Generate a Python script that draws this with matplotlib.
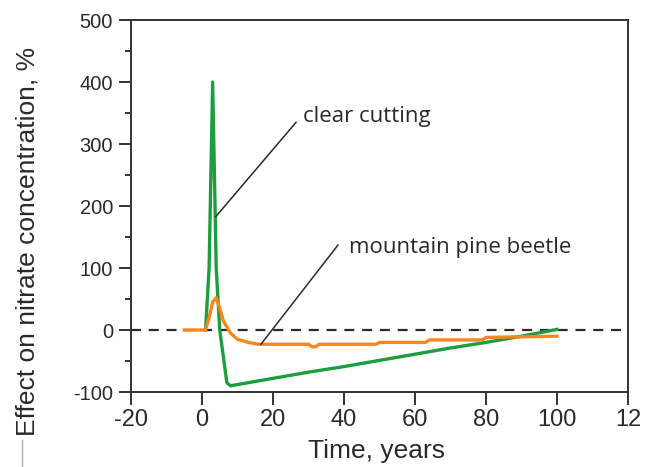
import matplotlib
matplotlib.use("Agg")
import matplotlib.pyplot as plt
from matplotlib.ticker import MultipleLocator

# Data
clear_x = [1, 2, 3, 4, 5, 7, 8, 10, 20, 30, 40, 50, 60, 70, 80, 90, 100]
clear_y = [0, 100, 400, 100, 0, -85, -90, -88, -78, -68, -59, -49, -39, -29, -20, -10, 1]

beetle_x = [-5, 1, 2, 3, 4, 5, 6, 8, 10, 13, 16, 30, 31, 32, 33, 49, 50, 63, 64, 79, 80, 100]
beetle_y = [0, 0, 20, 45, 52, 35, 15, -5, -15, -20, -23, -23, -27, -27, -23, -23, -20, -20, -16, -16, -12, -10]

x_ticks = [-20, 0, 20, 40, 60, 80, 100, 120]
x_ticklabels = ["-20", "0", "20", "40", "60", "80", "100", "12"]
y_ticks = [-100, 0, 100, 200, 300, 400, 500]
y_ticklabels = ["-100", "0", "100", "200", "300", "400", "500"]

green = "#1d9e3e"
orange = "#f7861e"
ink = "#2a2a2a"

plt.rcParams['font.family'] = ['Liberation Sans', 'DejaVu Sans']

fig = plt.figure(figsize=(6.46, 4.67), dpi=100)
ax = fig.add_axes([131/646, 1-392/467, (628-131)/646, (392-20)/467])

ax.axhline(0, color=ink, lw=1.6, ls=(0, (4.5, 3.5)), zorder=1)
ax.plot(clear_x, clear_y, color=green, lw=2.4, zorder=3, solid_joinstyle="round")
ax.plot(beetle_x, beetle_y, color=orange, lw=2.4, zorder=4, solid_joinstyle="round")

ax.set_xlim(-20, 120)
ax.set_ylim(-100, 500)
ax.set_xticks(x_ticks)
ax.set_xticklabels(x_ticklabels)
ax.set_yticks(y_ticks)
ax.set_yticklabels(y_ticklabels)
ax.yaxis.set_minor_locator(MultipleLocator(50))

for s in ax.spines.values():
    s.set_color("#333333")
    s.set_linewidth(1.4)

ax.tick_params(axis="x", which="major", labelsize=17, color="#333333", width=1.4,
               length=9, pad=3, labelcolor=ink)
ax.tick_params(axis="y", which="major", labelsize=14.5, color="#333333", width=1.4,
               length=9, pad=4, labelcolor=ink)
ax.tick_params(axis="y", which="minor", color="#333333", width=1.4, length=4.5)
ax.tick_params(axis="x", which="minor", length=0)

ax.set_xlabel("Time, years", fontsize=19, color=ink)
ax.xaxis.set_label_coords((376-131)/497, (392-439)/372)
ax.set_ylabel("Effect on nitrate concentration, %", fontsize=19, color=ink)
ax.yaxis.set_label_coords((40-131)/497, (392-241)/372)

# annotations
ann_font = ['Open Sans', 'DejaVu Sans']
ax.plot([3.9, 26.5], [183, 335], color=ink, lw=1.1, zorder=5)
ax.text(28.4, 336, "clear cutting", fontsize=16, family=ann_font, color=ink,
        va="baseline", ha="left")
ax.plot([16.6, 38.3], [-23, 137], color=ink, lw=1.1, zorder=5)
ax.text(41.5, 124, "mountain pine beetle", fontsize=16, family=ann_font, color=ink,
        va="baseline", ha="left")

# small gray mark at lower left
fig.add_artist(plt.Line2D([22/646, 22/646], [0, 27/467], color="#aaaaaa", lw=1))

fig.savefig("out.png", dpi=100)
